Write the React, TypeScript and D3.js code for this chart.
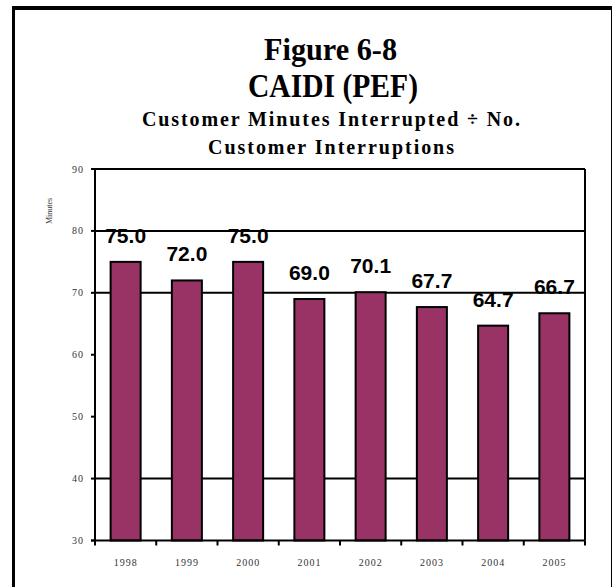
import React from "react";
import * as d3 from "d3";

const categories = ["1998", "1999", "2000", "2001", "2002", "2003", "2004", "2005"];
const values = [75.0, 72.0, 75.0, 69.0, 70.1, 67.7, 64.7, 66.7];
const yTicks = [30, 40, 50, 60, 70, 80, 90];
const visibleGrid = [40, 70, 80];
const titleLines = ["Figure 6-8", "CAIDI (PEF)"];
const subtitleLines = ["Customer Minutes Interrupted \u00F7 No.", "Customer Interruptions"];
const yLabel = "Minutes";

const W = 614;
const H = 587;
const plot = { left: 95, right: 585, top: 169, bottom: 540.5 };

export default function App() {
  const x = d3
    .scaleBand<string>()
    .domain(categories)
    .range([plot.left, plot.right])
    .paddingInner(0.51)
    .paddingOuter(0.255);
  const xb = d3.scaleBand<string>().domain(categories).range([plot.left, plot.right]);
  const y = d3.scaleLinear().domain([30, 90]).range([plot.bottom, plot.top]);
  const serif = "'Liberation Serif', 'Times New Roman', serif";
  const sans = "'Liberation Sans', Arial, sans-serif";
  const boundaries = [...categories.map((c) => xb(c) as number), plot.right];

  return (
    <svg
      width={W}
      height={H}
      style={{ position: "absolute", left: 0, top: 0, background: "#fff" }}
    >
      <rect x={0} y={0} width={W} height={H} fill="#fff" />
      {/* outer frame */}
      <line x1={13.5} x2={13.5} y1={6} y2={H} stroke="#000" strokeWidth={3} />
      <line x1={12} x2={612} y1={8} y2={8} stroke="#000" strokeWidth={4} />
      <line x1={611.5} x2={611.5} y1={6} y2={H} stroke="#000" strokeWidth={1} />

      {/* titles */}
      <text x={330.5} y={60} textAnchor="middle" fontFamily={serif} fontWeight="bold" fontSize={32}
        textLength={133} lengthAdjust="spacingAndGlyphs">{titleLines[0]}</text>
      <text x={333} y={97} textAnchor="middle" fontFamily={serif} fontWeight="bold" fontSize={33}
        textLength={170} lengthAdjust="spacingAndGlyphs">{titleLines[1]}</text>
      <text x={331} y={126} textAnchor="middle" fontFamily={serif} fontWeight="bold" fontSize={20}
        textLength={378} lengthAdjust="spacing">{subtitleLines[0]}</text>
      <text x={331} y={154} textAnchor="middle" fontFamily={serif} fontWeight="bold" fontSize={20}
        textLength={246} lengthAdjust="spacing">{subtitleLines[1]}</text>

      {/* y label */}
      <text transform="translate(52,211) rotate(-90)" textAnchor="middle" fontFamily={serif}
        fontSize={8} fill="#333">{yLabel}</text>

      {/* gridlines */}
      {visibleGrid.map((t) => (
        <line key={"g" + t} x1={plot.left} x2={plot.right} y1={y(t)} y2={y(t)} stroke="#000" strokeWidth={2} />
      ))}

      {/* bars */}
      {categories.map((c, i) => (
        <rect key={c} x={x(c)} y={y(values[i])} width={x.bandwidth()} height={y(30) - y(values[i])}
          fill="#993366" stroke="#000" strokeWidth={2} />
      ))}

      {/* plot border */}
      <line x1={plot.left} x2={plot.left} y1={plot.top} y2={plot.bottom} stroke="#000" strokeWidth={2} />
      <line x1={plot.right} x2={plot.right} y1={plot.top} y2={plot.bottom} stroke="#000" strokeWidth={2} />
      <line x1={plot.left - 4} x2={plot.right} y1={plot.top} y2={plot.top} stroke="#000" strokeWidth={2} />
      <line x1={plot.left - 4} x2={plot.right} y1={plot.bottom} y2={plot.bottom} stroke="#000" strokeWidth={2} />

      {/* y ticks */}
      {yTicks.map((t) => (
        <g key={"t" + t}>
          <line x1={plot.left - 4} x2={plot.left} y1={y(t)} y2={y(t)} stroke="#000" strokeWidth={2} />
          <text x={84} y={y(t) + 3.5} textAnchor="end" fontFamily={serif} fontSize={10}
            fill="#333" letterSpacing={1}>{t}</text>
        </g>
      ))}

      {/* x ticks */}
      {boundaries.map((b, i) => (
        <line key={"xt" + i} x1={b} x2={b} y1={plot.bottom} y2={plot.bottom + 5} stroke="#000" strokeWidth={2} />
      ))}
      {categories.map((c) => (
        <text key={"xl" + c} x={(xb(c) as number) + xb.bandwidth() / 2} y={566} textAnchor="middle"
          fontFamily={serif} fontSize={10} fill="#333" letterSpacing={1}>{c}</text>
      ))}

      {/* value labels */}
      {categories.map((c, i) => (
        <text key={"v" + c} x={(x(c) as number) + x.bandwidth() / 2} y={y(values[i]) - 19}
          textAnchor="middle" fontFamily={sans} fontWeight="bold" fontSize={21} fill="#000">
          {values[i].toFixed(1)}
        </text>
      ))}
    </svg>
  );
}
